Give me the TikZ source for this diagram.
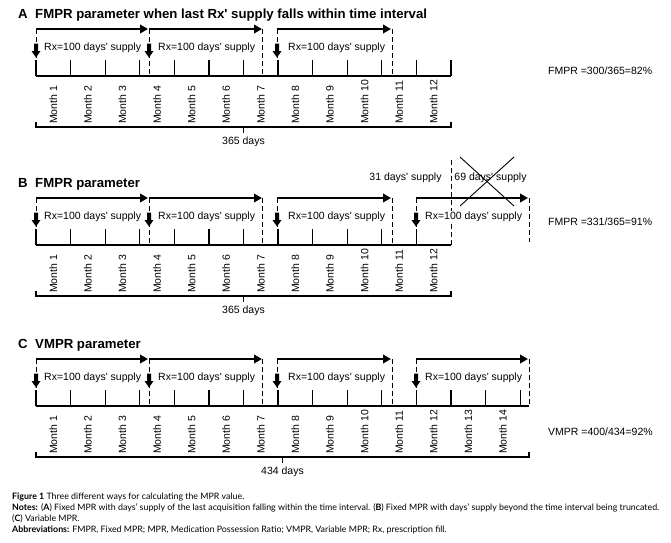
\documentclass[tikz,border=0pt]{standalone}
\usepackage{fontspec}
\setmainfont{Liberation Sans}
\newfontfamily\diagfont{Liberation Sans}
\newfontfamily\capfont{Lato}
\usetikzlibrary{arrows.meta}
\newlength\capw
% common timeline pieces of a panel: arrows 1-3, dashed limits, fill markers, labels
\newcommand\panelbase[1]{%
  \coordinate (#1-s1) at (36,29);  \coordinate (#1-e1) at (148,29);
  \coordinate (#1-s2) at (149,29); \coordinate (#1-e2) at (262,29);
  \coordinate (#1-s3) at (277,29); \coordinate (#1-e3) at (391,29);
  \foreach \xx in {36,149,262,277,392}{\draw[dashline] (\xx,29) -- (\xx,76);}
  \draw[supplyarrow] (#1-s1) -- (#1-e1);
  \draw[supplyarrow] (#1-s2) -- (#1-e2);
  \draw[supplyarrow] (#1-s3) -- (#1-e3);
  \pic at (36,43.5) {rxdown};
  \pic at (149,43.5) {rxdown};
  \pic at (277,43.5) {rxdown};
  \node[rxlabel] (#1-rx1) at (43,48) {Rx=100 days' supply};
  \node[rxlabel] (#1-rx2) at (157,48) {Rx=100 days' supply};
  \node[rxlabel] (#1-rx3) at (287,48) {Rx=100 days' supply};
}
\newcommand\fourtharrow[2]{% prefix, bottom of right dashed limit
  \coordinate (#1-s4) at (416,29); \coordinate (#1-e4) at (528,29);
  \draw[dashline] (416,29) -- (416,76);
  \draw[dashline] (529,29) -- (529,#2);
  \draw[supplyarrow] (#1-s4) -- (#1-e4);
  \pic at (416,43.5) {rxdown};
  \node[rxlabel] (#1-rx4) at (424,48) {Rx=100 days' supply};
}
\newcommand\timeaxis[3]{% prefix, last solid tick index, axis end x
  \coordinate (#1-ax0) at (36,76); \coordinate (#1-ax1) at (#3,76);
  \foreach \k in {0,...,#2}{\draw[tickline] (36+34.583*\k,60) -- (36+34.583*\k,76);}
  \draw[axisline] (#1-ax0) -- (#1-ax1);
}
\newcommand\monthlabels[2]{%
  \foreach \k in {1,...,#2}{\node[monthlabel] (#1-m\k) at (36+34.583*\k-17.29,124) {Month \k};}
}
\newcommand\daybracket[3]{% prefix, end x, text
  \coordinate (#1-bl) at (36,122); \coordinate (#1-br) at (#2,122);
  \coordinate (#1-bc) at ({(36+#2)/2},127);
  \draw[tickline] (#1-bl) -- (36,127) -- (#2,127) -- (#1-br);
  \node (#1-days) at ({(36+#2)/2},142) {#3};
  \draw[tickline] (#1-bc) -- ++(0,6);
}
\newcommand\notesline{\textbf{Notes:} (\textbf{A}) Fixed MPR with days’ supply of the last acquisition falling within the time interval. (\textbf{B}) Fixed MPR with days’ supply beyond the time interval being truncated.}
\begin{document}
\settowidth\capw{\capfont\fontsize{10}{12}\selectfont\notesline}%
\pgfmathsetmacro\capsize{10*647/\capw}%
\begin{tikzpicture}[x=1pt,y=-1pt,
  every node/.style={inner sep=0pt,font=\diagfont\fontsize{10.5}{12.6}\selectfont},
  paneltitle/.style={anchor=base west,font=\diagfont\bfseries\fontsize{13.2}{15}\selectfont},
  axisline/.style={line width=1.4pt},
  tickline/.style={line width=1.2pt},
  dashline/.style={line width=0.9pt,dash pattern=on 5pt off 3pt},
  supplyarrow/.style={line width=2.6pt,-{Triangle[length=8pt,width=8.5pt]}},
  crossline/.style={line width=0.9pt},
  rxlabel/.style={anchor=west,fill=white,inner xsep=1pt,inner ysep=1pt},
  monthlabel/.style={anchor=west,rotate=90},
  mprlabel/.style={anchor=west},
  rxdown/.pic={\fill (-2,0) -- (2,0) -- (2,7.5) -- (4.5,7.5) -- (0,14) -- (-4.5,7.5) -- (-2,7.5) -- cycle;},
  caption/.style={anchor=base west,font=\capfont\fontsize{\capsize}{12}\selectfont}
]
\useasboundingbox (0,0) rectangle (671,542);
\fill[white] (0,0) rectangle (671,542);

% ---------------- Panel A ----------------
\begin{scope}
  \node[paneltitle] (A-letter) at (18,18) {A};
  \node[paneltitle] (A-title) at (35,18) {FMPR parameter when last Rx' supply falls within time interval};
  \timeaxis{A}{12}{451}
  \panelbase{A}
  \monthlabels{A}{12}
  \daybracket{A}{451}{365 days}
  \node[mprlabel] (A-mpr) at (548,71) {FMPR =300/365=82\%};
\end{scope}

% ---------------- Panel B ----------------
\begin{scope}[shift={(0,169)}]
  \node[paneltitle] (B-letter) at (18,18) {B};
  \node[paneltitle] (B-title) at (35,18) {FMPR parameter};
  \timeaxis{B}{11}{451}
  \draw[dashline] (451,-9) -- (451,76);
  \panelbase{B}
  \fourtharrow{B}{73}
  \monthlabels{B}{12}
  \daybracket{B}{451}{365 days}
  \node (B-31) at (405.5,9) {31 days' supply};
  \node (B-69) at (490.5,9) {69 days' supply};
  \draw[crossline] (460,-12) -- (514,37);
  \draw[crossline] (514,-12) -- (460,37);
  \node[mprlabel] (B-mpr) at (548,53) {FMPR =331/365=91\%};
\end{scope}

% ---------------- Panel C ----------------
\begin{scope}[shift={(0,330)}]
  \node[paneltitle] (C-letter) at (18,18) {C};
  \node[paneltitle] (C-title) at (35,18) {VMPR parameter};
  \timeaxis{C}{14}{529}
  \panelbase{C}
  \fourtharrow{C}{76}
  \monthlabels{C}{14}
  \daybracket{C}{529}{434 days}
  \node[mprlabel] (C-mpr) at (548,102) {VMPR =400/434=92\%};
\end{scope}

% ---------------- Caption ----------------
\node[caption] (cap1) at (12,499.5) {\textbf{Figure 1} Three different ways for calculating the MPR value.};
\node[caption] (cap2) at (12,510.5) {\notesline};
\node[caption] (cap3) at (12,521.5) {(\textbf{C}) Variable MPR.};
\node[caption] (cap4) at (12,532) {\textbf{Abbreviations:} FMPR, Fixed MPR; MPR, Medication Possession Ratio; VMPR, Variable MPR; Rx, prescription fill.};
\end{tikzpicture}
\end{document}
